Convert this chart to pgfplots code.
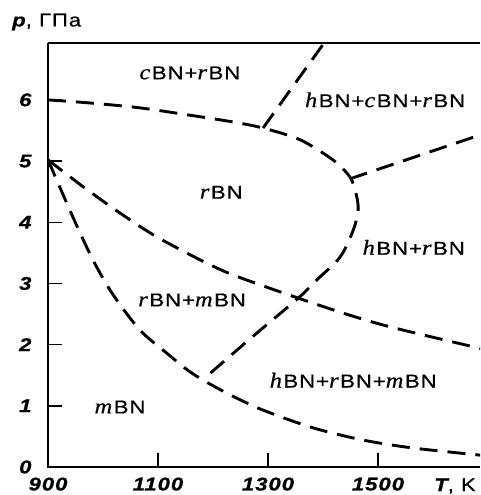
\documentclass[border=0pt]{standalone}
\usepackage{pgfplots}
\pgfplotsset{compat=1.18}
\usepackage{fontspec}
\setmainfont{Liberation Sans}[FakeStretch=1.2, LetterSpace=5, FakeBold=0.6]
\newfontfamily\pref{Liberation Serif}[Scale=1.15, FakeStretch=1.15, FakeBold=0.6]
\newcommand{\BN}[1]{{\pref\itshape #1}\hspace{1.5pt}BN}
\begin{document}
\begin{tikzpicture}
\begin{axis}[
  scale only axis, width=432pt, height=424pt, at={(0,0)}, anchor=south west,
  xmin=900, xmax=1685.5, ymin=0, ymax=6.93,
  axis line style={draw=none},
  xtick={900,1100,1300,1500}, xticklabels={900,1100,1300,1500},
  ytick={0,1,2,3,4,5,6}, yticklabels={0,1,2,3,4,5,6},
  tick align=inside, xtick pos=bottom, ytick pos=left,
  major tick length=14pt,
  tick style={black, line width=1.4pt},
  ticklabel style={font=\fontsize{18.5}{21}\selectfont\bfseries\itshape},
  xticklabel style={yshift=-7pt},
  yticklabel style={xshift=-13pt},
  every axis plot/.append style={black, line width=2.9pt, dash pattern=on 18pt off 10pt, no markers},
]
% upper boundary of rBN field with nose
\addplot[smooth] coordinates {(900,6.0) (976,5.95) (1067,5.87) (1158,5.75) (1236,5.64) (1291,5.54) (1358,5.35) (1418,5.02) (1449,4.74) (1460,4.47) (1464,4.20) (1455,3.87) (1431,3.43) (1389,3.06) (1355,2.76) (1268,2.10) (1182,1.43)};
% line to top
\addplot[] coordinates {(1291,5.54) (1402,6.93)};
% line to right edge
\addplot[] coordinates {(1449,4.71) (1690,5.44)};
% descending middle curve
\addplot[smooth] coordinates {(900,5.02) (964,4.58) (1031,4.15) (1098,3.76) (1189,3.33) (1245,3.11) (1355,2.76) (1449,2.48) (1531,2.27) (1690,1.93)};
% lower curve
\addplot[smooth] coordinates {(900,5.02) (945,4.09) (982,3.38) (1018,2.82) (1067,2.24) (1116,1.86) (1153,1.59) (1182,1.42) (1231,1.18) (1291,0.93) (1382,0.64) (1473,0.44) (1564,0.31) (1690,0.19)};
\begin{scope}[every node/.style={font=\fontsize{18.5}{21}\selectfont, inner sep=0pt}]
\node at (axis cs:1158,6.44) {\BN{c}+\BN{r}};
\node at (axis cs:1513,6.0) {\BN{h}+\BN{c}+\BN{r}};
\node at (axis cs:1215,4.49) {\BN{r}};
\node at (axis cs:1565,3.59) {\BN{h}+\BN{r}};
\node at (axis cs:1162,2.73) {\BN{r}+\BN{m}};
\node at (axis cs:1455,1.42) {\BN{h}+\BN{r}+\BN{m}};
\node at (axis cs:1031,0.98) {\BN{m}};
\end{scope}
\end{axis}
\draw[line width=2.2pt] (0,424pt) -- (0,0) -- (432pt,0);
\draw[line width=1.5pt] (0,424pt) -- (432pt,424pt);
\node[anchor=west, inner sep=0pt, font=\fontsize{18.5}{21}\selectfont] at (-36pt,445pt) {{\bfseries\itshape p}, ГПа};
\node[inner sep=0pt, font=\fontsize{18.5}{21}\selectfont] at (407pt,-19pt) {{\bfseries\itshape T}, K};
\pgfresetboundingbox
\path[use as bounding box] (-48pt,-28pt) rectangle (432pt,467pt);
\end{tikzpicture}
\end{document}
